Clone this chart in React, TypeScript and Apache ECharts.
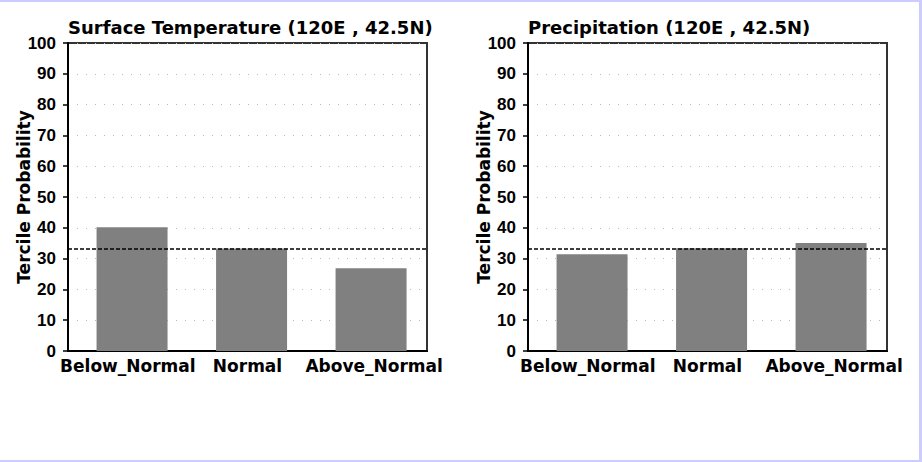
import React, { useEffect, useRef } from 'react';
import * as echarts from 'echarts';

const categories = ['Below_Normal', 'Normal', 'Above_Normal'];
const temperatureValues = [40.2, 33.3, 26.9];
const precipitationValues = [31.4, 33.4, 35.1];
const climatologyLine = 33.3;
const panelTitles = ['Surface Temperature (120E , 42.5N)', 'Precipitation (120E , 42.5N)'];
const yAxisName = 'Tercile Probability';
const yMin = 0;
const yMax = 100;
const yInterval = 10;

const panels = [
  { title: panelTitles[0], values: temperatureValues, left: 68 },
  { title: panelTitles[1], values: precipitationValues, left: 528 },
];

export default function App() {
  const ref = useRef<HTMLDivElement>(null);
  useEffect(() => {
    if (!ref.current) return;
    const chart = echarts.init(ref.current, undefined, { renderer: 'svg' });
    const grids: any[] = [];
    const xAxes: any[] = [];
    const yAxes: any[] = [];
    const series: any[] = [];
    const titles: any[] = [];
    panels.forEach((p, i) => {
      grids.push({
        left: p.left, top: 43, width: 359, height: 308,
        show: true, borderColor: '#333', borderWidth: 2, backgroundColor: '#fff',
      });
      titles.push({
        text: p.title, left: p.left, top: 18, padding: 0,
        textStyle: { fontFamily: 'DejaVu Sans', fontWeight: 'bold', fontSize: 18, color: '#000' },
      });
      xAxes.push({
        type: 'category', gridIndex: i, data: categories.map((c, k) => (
          k === categories.length - 1 ? { value: c, textStyle: { padding: [0, 0, 0, 14] } } : c
        )),
        boundaryGap: true,
        axisLine: { show: true, lineStyle: { color: '#000', width: 2 } },
        axisTick: { show: false },
        axisLabel: { fontFamily: 'DejaVu Sans', fontWeight: 'bold', fontSize: 17, color: '#000', margin: 6, interval: 0 },
        splitLine: { show: false },
      });
      xAxes.push({
        type: 'value', gridIndex: i, min: 0.464, max: 3.468, show: false,
      });
      yAxes.push({
        type: 'value', gridIndex: i, min: yMin, max: yMax, interval: yInterval,
        name: yAxisName, nameLocation: 'middle', nameGap: 36, nameMoveOverlap: false,
        nameTextStyle: { fontFamily: 'DejaVu Sans', fontWeight: 'bold', fontSize: 17, color: '#000' },
        axisLine: { show: true, lineStyle: { color: '#000', width: 2 } },
        axisTick: { show: true, inside: false, length: 5, lineStyle: { color: '#000', width: 1.5 } },
        axisLabel: { fontFamily: 'Liberation Sans', fontWeight: 'bold', fontSize: 17, color: '#000', margin: 12 },
        splitLine: { show: true, lineStyle: { color: '#bbb', width: 1, type: [1, 8] } },
      });
      series.push({
        type: 'bar', xAxisIndex: i * 2 + 1, yAxisIndex: i,
        data: p.values.map((v, k) => [k + 1, v]),
        barWidth: 71,
        itemStyle: { color: '#808080' },
        markLine: {
          silent: true, symbol: 'none', label: { show: false },
          lineStyle: { color: '#000', type: [4, 2], width: 1.5 },
          data: [{ yAxis: climatologyLine }],
        },
      });
    });
    chart.setOption({
      animation: false,
      backgroundColor: '#fff',
      title: titles,
      grid: grids,
      xAxis: xAxes,
      yAxis: yAxes,
      series,
      graphic: [
        { type: 'rect', shape: { x: 0, y: 0, width: 922, height: 2 }, style: { fill: '#ccccff' } },
        { type: 'rect', shape: { x: 919, y: 0, width: 3, height: 462 }, style: { fill: '#ccccff' } },
        { type: 'rect', shape: { x: 0, y: 460, width: 922, height: 2 }, style: { fill: '#ccccff' } },
      ],
    });
    return () => chart.dispose();
  }, []);
  return (
    <div style={{ position: 'fixed', left: 0, top: 0, width: 922, height: 462, background: '#fff' }}>
      <div ref={ref} style={{ width: 922, height: 462 }} />
    </div>
  );
}
